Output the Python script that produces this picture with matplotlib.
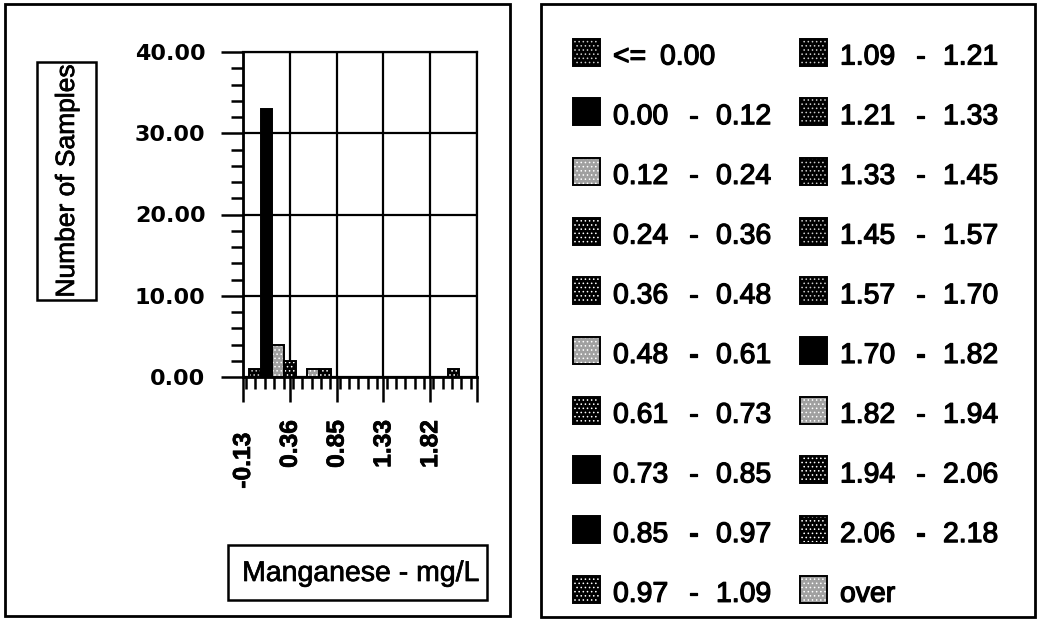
import matplotlib
matplotlib.use("Agg")
import matplotlib.pyplot as plt
import matplotlib.patheffects as pe
from matplotlib.patches import Rectangle
from matplotlib.ticker import FixedLocator, MultipleLocator, FixedFormatter
from matplotlib.transforms import ScaledTranslation
from matplotlib.font_manager import FontProperties, fontManager
from matplotlib.textpath import TextPath

# ---------------- data ----------------
bin_edges = [0.00, 0.12, 0.24, 0.36, 0.48, 0.61, 0.73, 0.85, 0.97, 1.09,
             1.21, 1.33, 1.45, 1.57, 1.70, 1.82, 1.94, 2.06, 2.18]
counts = [1, 33, 4, 2, 0, 1, 1, 0, 0, 0, 0, 0, 0, 0, 0, 0, 0, 1, 0, 0]
x_tick_labels = ["-0.13", "0.36", "0.85", "1.33", "1.82"]
y_ticks = [0, 10, 20, 30, 40]
y_tick_labels = ["0.00", "10.00", "20.00", "30.00", "40.00"]
x_title = "Manganese - mg/L"
y_title = "Number of Samples"

# fill style of each class (scan stipple patterns)
styles = ["dark", "solid", "light", "mid", "mid", "light", "mid", "solid", "solid", "mid",
          "dark", "dark", "dark", "dark", "dark", "solid", "light", "mid", "mid", "light"]

# category labels (low, high) built from the edges
lows = ["<="] + [f"{e:.2f}" for e in bin_edges[:-1]] + ["over"]
highs = [f"{bin_edges[0]:.2f}"] + [f"{e:.2f}" for e in bin_edges[1:]] + [""]

# ---------------- fonts ----------------
avail = {f.name for f in fontManager.ttflist}
cands = ["Liberation Sans", "Arimo", "Helvetica", "Arial"]
FAM = next((c for c in cands if c in avail), "DejaVu Sans")
TICKFAM = "DejaVu Sans"
plt.rcParams["hatch.linewidth"] = 0.6

DPI = 100
W, H = 1037, 619
BOLD = [pe.withStroke(linewidth=0.9, foreground="black")]
SEMI = [pe.withStroke(linewidth=0.5, foreground="black")]


def fit(text, px, family=FAM, weight="normal"):
    fp = FontProperties(family=family, weight=weight, size=100)
    w = TextPath((0, 0), text, prop=fp).get_extents().width
    return 100 * px / (w * DPI / 72.0)


fs_leg = fit("0.00", 53)
fs_xtitle = fit(x_title, 234)
fs_ytitle = fit(y_title, 230)
fs_xt = fit("0.36", 46, weight="bold")

fig = plt.figure(figsize=(W / DPI, H / DPI), dpi=DPI)

# background overlay in pixel coordinates (panel frames, title boxes, legend)
bg = fig.add_axes([0, 0, 1, 1], zorder=0)
bg.set_xlim(0, W)
bg.set_ylim(H, 0)
bg.axis("off")

bg.add_patch(Rectangle((5, 4), 505, 612, fill=False, lw=2.0, ec="black"))
bg.add_patch(Rectangle((541, 4), 494, 613, fill=False, lw=2.0, ec="black"))
bg.add_patch(Rectangle((37, 62), 59, 238, fill=False, lw=1.8, ec="black"))
bg.add_patch(Rectangle((228, 545), 259, 55, fill=False, lw=1.8, ec="black"))
bg.text(67, 181, y_title, rotation=90, ha="center", va="center",
        fontsize=fs_ytitle, family=FAM, path_effects=SEMI)
bg.text(361, 581, x_title, ha="center", va="baseline",
        fontsize=fs_xtitle, family=FAM, path_effects=SEMI)


def style_kw(s):
    if s == "solid":
        return dict(fc="black", ec="black", hatch=None)
    if s == "dark":
        return dict(fc="black", ec="#cccccc", hatch="....")
    if s == "mid":
        return dict(fc="black", ec="white", hatch="....")
    return dict(fc="#a0a0a0", ec="white", hatch="....")


# ---------------- chart ----------------
ax = fig.add_axes([243 / W, 1 - 377 / H, 234 / W, 325 / H], zorder=1)
ax.patch.set_alpha(0)
x0 = float(x_tick_labels[0])
step = (float(x_tick_labels[-1]) - x0) / (len(x_tick_labels) - 1)
bw = step / 4
n = len(counts)
xmax = x0 + n * bw
ax.set_xlim(x0, xmax)
ax.set_ylim(0, 40)

for k, (c, s) in enumerate(zip(counts, styles)):
    if c <= 0:
        continue
    xc = x0 + (k + 1) * bw
    kw = style_kw(s)
    ax.bar(xc, c, width=bw, align="center", color=kw["fc"], edgecolor=kw["ec"],
           hatch=kw["hatch"], linewidth=0, zorder=3)
    ax.bar(xc, c, width=bw, align="center", fill=False, edgecolor="black",
           linewidth=1.4, zorder=4)

xmaj = [x0 + i * step for i in range(len(x_tick_labels) + 1)]
ax.xaxis.set_major_locator(FixedLocator(xmaj))
ax.xaxis.set_major_formatter(FixedFormatter(x_tick_labels + [""]))
ax.xaxis.set_minor_locator(MultipleLocator(step / 5))
ax.yaxis.set_major_locator(FixedLocator(y_ticks))
ax.yaxis.set_major_formatter(FixedFormatter(y_tick_labels))
ax.yaxis.set_minor_locator(MultipleLocator(2))

ax.grid(True, which="major", color="black", lw=1.6, zorder=1)
for sp in ax.spines.values():
    sp.set_linewidth(1.6)
    sp.set_color("black")
ax.spines["left"].set_linewidth(2.0)
ax.spines["bottom"].set_linewidth(2.0)

ax.tick_params(axis="x", which="major", direction="out", length=18, width=1.8,
               pad=13, labelsize=fs_xt, labelrotation=90)
ax.tick_params(axis="x", which="minor", direction="out", length=8.5, width=1.8)
ax.tick_params(axis="y", which="major", direction="out", length=16, width=1.8,
               pad=11, labelsize=16)
ax.tick_params(axis="y", which="minor", direction="out", length=8.5, width=1.8)
for lab in ax.get_xticklabels():
    lab.set_family(FAM)
    lab.set_weight("bold")
    lab.set_va("top")
    lab.set_path_effects(SEMI)
for lab in ax.get_yticklabels():
    lab.set_family(TICKFAM)
    lab.set_weight("bold")
# first x label sits a little lower in the original
first = ax.get_xticklabels()[0]
first.set_transform(first.get_transform() + ScaledTranslation(0, -9 / 72, fig.dpi_scale_trans))

# ---------------- legend (right panel) ----------------
col_sw = [573, 800]
col_tx = [613, 840]
row0, drow = 52, 59.7
sw = 27
for i in range(n):
    col, row = divmod(i, 10)
    yc = row0 + row * drow
    kw = style_kw(styles[i])
    bg.add_patch(Rectangle((col_sw[col], yc - sw / 2), sw, sw, fc=kw["fc"], ec=kw["ec"],
                           hatch=kw["hatch"], lw=0))
    bg.add_patch(Rectangle((col_sw[col], yc - sw / 2), sw, sw, fill=False, ec="black", lw=1.4))
    yb = yc + sw / 2 - 1
    tx = col_tx[col]
    tk = dict(fontsize=fs_leg, family=FAM, va="baseline", path_effects=BOLD)
    if lows[i] == "<=":
        bg.text(tx, yb, "<=", ha="left", **tk)
        bg.text(tx + 47, yb, highs[i], ha="left", **tk)
    elif highs[i] == "":
        bg.text(tx, yb, lows[i], ha="left", **tk)
    else:
        bg.text(tx, yb, lows[i], ha="left", **tk)
        bg.text(tx + 80, yb, "-", ha="center", **tk)
        bg.text(tx + 103, yb, highs[i], ha="left", **tk)

fig.savefig("out.png", dpi=DPI)
